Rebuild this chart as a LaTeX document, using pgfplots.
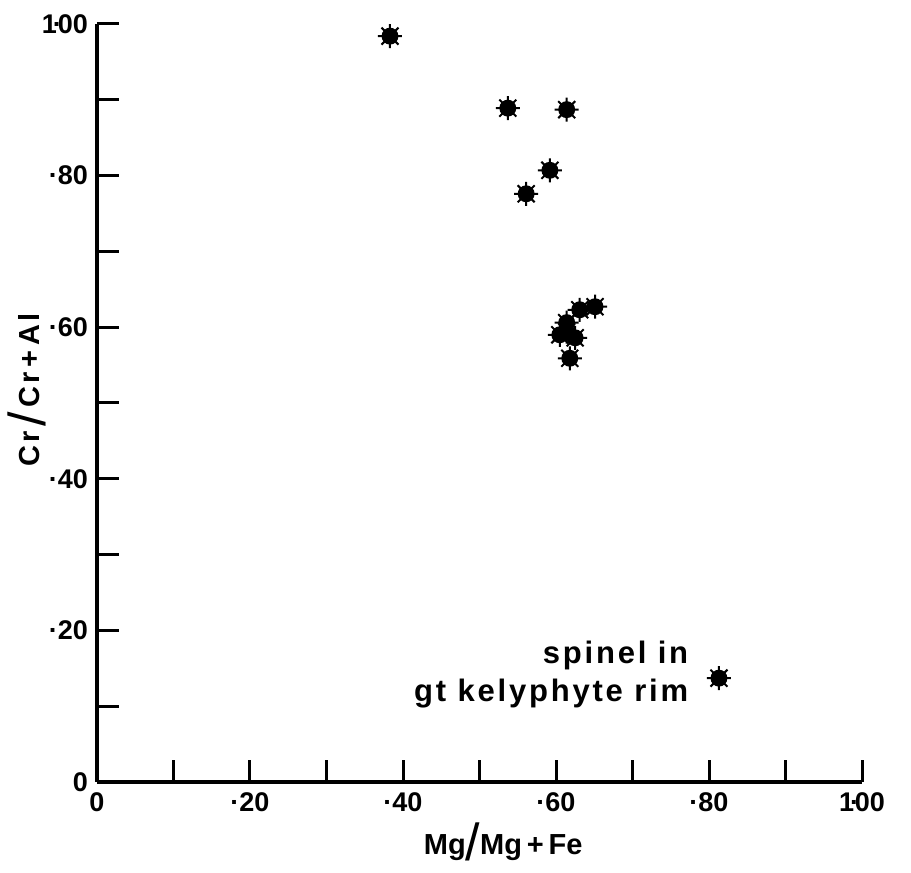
\documentclass[border=0pt]{standalone}
\usepackage{fontspec}
\setmainfont{Liberation Sans}
\usepackage{pgfplots}
\pgfplotsset{compat=1.18}

\pgfdeclareplotmark{spiky}{%
  \pgfpathcircle{\pgfpointorigin}{0.62\pgfplotmarksize}%
  \pgfusepathqfillstroke
  \pgfpathmoveto{\pgfpointpolar{0}{0.4\pgfplotmarksize}}\pgfpathlineto{\pgfpointpolar{0}{\pgfplotmarksize}}%
  \pgfpathmoveto{\pgfpointpolar{45}{0.4\pgfplotmarksize}}\pgfpathlineto{\pgfpointpolar{45}{\pgfplotmarksize}}%
  \pgfpathmoveto{\pgfpointpolar{90}{0.4\pgfplotmarksize}}\pgfpathlineto{\pgfpointpolar{90}{\pgfplotmarksize}}%
  \pgfpathmoveto{\pgfpointpolar{135}{0.4\pgfplotmarksize}}\pgfpathlineto{\pgfpointpolar{135}{\pgfplotmarksize}}%
  \pgfpathmoveto{\pgfpointpolar{180}{0.4\pgfplotmarksize}}\pgfpathlineto{\pgfpointpolar{180}{\pgfplotmarksize}}%
  \pgfpathmoveto{\pgfpointpolar{225}{0.4\pgfplotmarksize}}\pgfpathlineto{\pgfpointpolar{225}{\pgfplotmarksize}}%
  \pgfpathmoveto{\pgfpointpolar{270}{0.4\pgfplotmarksize}}\pgfpathlineto{\pgfpointpolar{270}{\pgfplotmarksize}}%
  \pgfpathmoveto{\pgfpointpolar{315}{0.4\pgfplotmarksize}}\pgfpathlineto{\pgfpointpolar{315}{\pgfplotmarksize}}%
  \pgfusepathqstroke
}
\newcommand{\bigslash}{{\mdseries\fontsize{26}{26}\selectfont\raisebox{-3pt}{/}}}

\begin{document}
\begin{tikzpicture}
\begin{axis}[
  scale only axis,
  width=382.5pt, height=379pt,
  xmin=0, xmax=1, ymin=0, ymax=1,
  axis lines=left,
  axis line style={-, line width=2pt},
  tick align=inside,
  major tick length=11pt,
  tick style={line width=1.5pt, black},
  xtick={0,0.1,0.2,0.3,0.4,0.5,0.6,0.7,0.8,0.9,1},
  ytick={0,0.1,0.2,0.3,0.4,0.5,0.6,0.7,0.8,0.9,1},
  xticklabels={0,,·20,,·40,,·60,,·80,,1\kern-0.15em·\kern-0.15em00},
  yticklabels={0,,·20,,·40,,·60,,·80,,1\kern-0.15em·\kern-0.15em00},
  tick label style={font=\bfseries\fontsize{13.5}{15}\selectfont},
  xticklabel style={yshift=-2pt},
  yticklabel style={xshift=-1pt},
  xlabel={Mg\bigslash Mg\,+\,Fe},
  ylabel={\addfontfeatures{LetterSpace=11}Cr\,\bigslash\,Cr\,+\,Al},
  label style={font=\bfseries\fontsize{14.5}{16}\selectfont},
  xlabel style={at={(axis description cs:0.531,-0.0963)}, anchor=base},
  ylabel style={at={(axis description cs:-0.0758,0.517)}, anchor=base, rotate=0},
  clip=false,
]
\addplot[only marks, mark=spiky, mark size=6pt, black, line width=1pt, mark options={fill=black}] coordinates {
  (0.383,0.984)
  (0.537,0.889)
  (0.614,0.887)
  (0.592,0.807)
  (0.561,0.776)
  (0.651,0.627)
  (0.631,0.623)
  (0.614,0.606)
  (0.605,0.590)
  (0.625,0.586)
  (0.614,0.594)
  (0.618,0.559)
  (0.813,0.137)
};
\node[anchor=east, align=right, font=\bfseries\fontsize{15.5}{19}\selectfont\addfontfeatures{LetterSpace=9}] at (axis cs:0.782,0.142) {spinel in\\gt kelyphyte rim};
\end{axis}
\pgfresetboundingbox
\path ([shift={(-48.5pt,-45.5pt)}]current axis.south west) rectangle ([shift={(24.5pt,12pt)}]current axis.north east);
\end{tikzpicture}
\end{document}
